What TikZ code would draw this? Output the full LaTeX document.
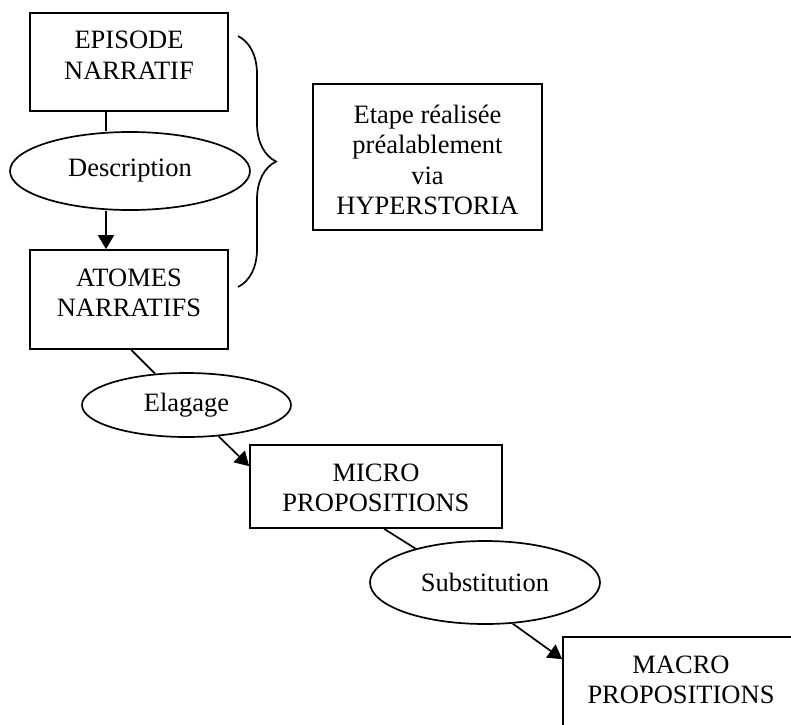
\documentclass[tikz,border=0pt]{standalone}
\usepackage{fontspec}
\setmainfont{Liberation Serif}
\usetikzlibrary{arrows.meta,shapes.geometric,decorations.pathreplacing}
\begin{document}
\begin{tikzpicture}[x=1pt,y=-1pt,
  txt/.style={font=\fontsize{26.5}{30.5}\selectfont, align=center, inner sep=0pt},
  box/.style={draw, rectangle, line width=1.7pt, inner sep=0pt},
  boxthick/.style={box, line width=2.5pt},
  boxmid/.style={box, line width=2.1pt},
  ell/.style={draw, ellipse, line width=1.7pt, inner sep=0pt, font=\fontsize{26.5}{30.5}\selectfont},
  conn/.style={line width=1.7pt},
  arr/.style={-{Triangle[length=14pt,width=16pt]}}]
\useasboundingbox (0,0) rectangle (791,724);
\clip (0,0) rectangle (791,724);
% boxes
\node[boxthick, minimum width=198pt, minimum height=98pt] (ep) at (129,62) {};
\node[txt] (epT) at (129,55) {EPISODE\\NARRATIF};
\node[ell, minimum width=240pt, minimum height=78pt] (desc) at (130,171) {Description};
\node[box, minimum width=198pt, minimum height=99pt] (at) at (129,299.5) {};
\node[txt] (atT) at (129,293) {ATOMES\\NARRATIFS};
\node[boxmid, minimum width=229pt, minimum height=146pt] (et) at (427.5,157) {};
\node[txt] (etT) at (427.5,160) {Etape réalisée\\préalablement\\via\\HYPERSTORIA};
\node[ell, minimum width=209pt, minimum height=64pt] (elag) at (186.5,405) {Elagage};
\node[box, minimum width=252pt, minimum height=83pt] (mi) at (376,486.5) {};
\node[txt] (miT) at (376,488) {MICRO\\PROPOSITIONS};
\node[ell, minimum width=230pt, minimum height=83pt] (subs) at (485,582.5) {Substitution};
\node[box, minimum width=236pt, minimum height=110pt] (ma) at (681,692) {};
\node[txt] (maT) at (681,680) {MACRO\\PROPOSITIONS};
% connectors
\coordinate (cx) at (106,0);
\draw[conn] (ep.south -| cx) -- (desc.north -| cx);
\draw[conn, arr] (desc.south -| cx) -- (at.north -| cx);
\draw[conn] ([xshift=102pt]at.south west) -- (elag);
\draw[conn, arr] (elag) -- ([yshift=-22pt]mi.north west);
\draw[conn] ([xshift=135pt]mi.south west) -- (subs.154);
\draw[conn, arr] (subs.304) -- ([yshift=-23pt]ma.north west);
% brace
\coordinate (brT) at (238,36);
\coordinate (brB) at (238,287);
\draw[line width=1.7pt, decorate, decoration={brace, amplitude=38pt}] (brT) -- (brB);
\end{tikzpicture}
\end{document}
